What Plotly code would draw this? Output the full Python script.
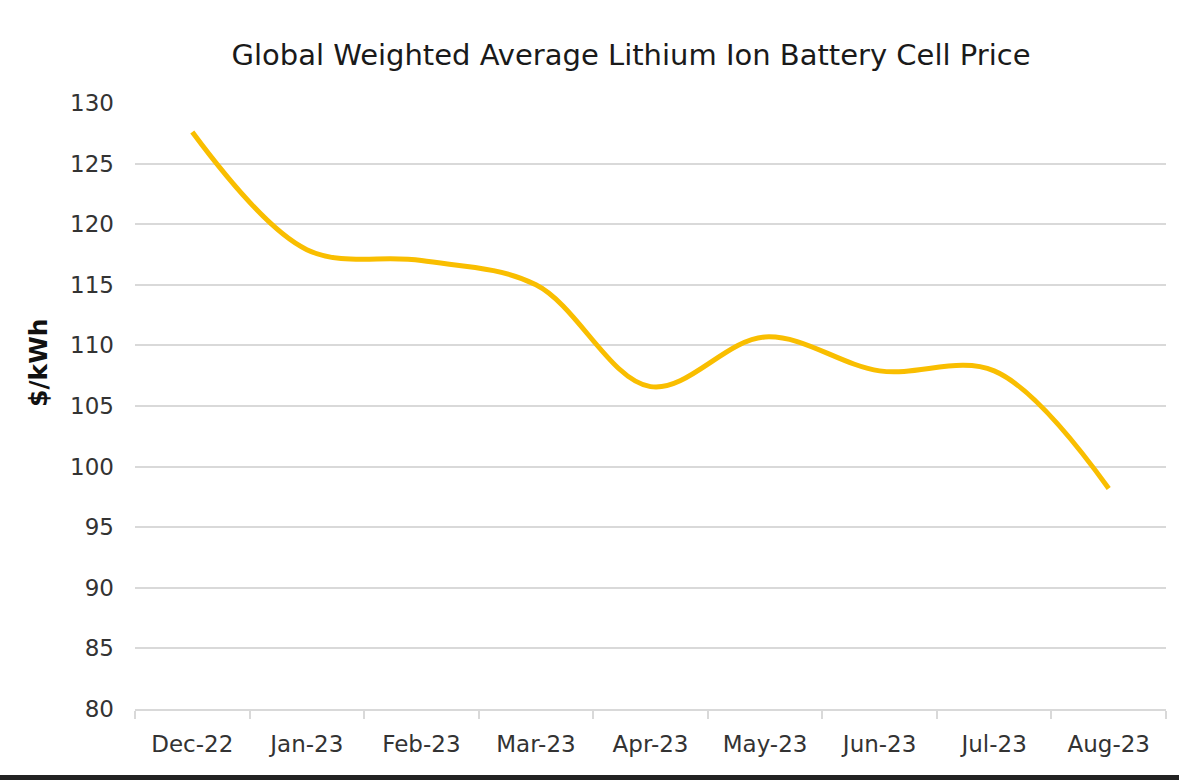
import plotly.graph_objects as go

months = ["Dec-22", "Jan-23", "Feb-23", "Mar-23", "Apr-23", "May-23", "Jun-23", "Jul-23", "Aug-23"]
price = [127.6, 117.9, 117.0, 115.0, 106.6, 110.7, 107.9, 107.9, 98.2]
y_ticks = [80, 85, 90, 95, 100, 105, 110, 115, 120, 125, 130]

W, H = 1179, 780
L, R, T, B = 135, 13, 103, 71
pw, ph = W - L - R, H - T - B

FONT = "DejaVu Sans"
grid = "#d9d9d9"

fig = go.Figure()
fig.add_trace(go.Scatter(
    x=months, y=price, mode="lines",
    line=dict(color="#F9BE00", width=5, shape="spline", smoothing=1),
    hoverinfo="x+y", showlegend=False,
))

fig.update_layout(
    width=W, height=H,
    margin=dict(l=L, r=R, t=T, b=B, autoexpand=False),
    paper_bgcolor="white", plot_bgcolor="white",
    font=dict(family=FONT, color="#333333"),
    title=dict(
        text="Global Weighted Average Lithium Ion Battery Cell Price",
        font=dict(family=FONT, size=29, color="#1a1a1a"),
        x=(631 - L) / pw, xref="paper", xanchor="center",
        y=(H - 55) / H, yref="container", yanchor="middle",
    ),
    xaxis=dict(
        type="category", showgrid=False, automargin=False,
        range=[-0.5, len(months) - 0.5],
        showline=True, linecolor=grid, linewidth=2,
        ticks="outside", tickson="boundaries", ticklen=8, tickcolor=grid, tickwidth=2,
        tickfont=dict(family=FONT, size=23, color="#333333"),
        ticklabelstandoff=13,
    ),
    yaxis=dict(
        range=[80, 130], tickvals=y_ticks, automargin=False,
        showgrid=True, gridcolor=grid, gridwidth=1.5,
        zeroline=False, showline=False, ticks="",
        tickfont=dict(family=FONT, size=23, color="#333333"),
        ticklabelstandoff=20,
    ),
    annotations=[dict(
        text="<b>$/kWh</b>", textangle=-90,
        xref="paper", yref="paper",
        x=(38 - L) / pw, y=(H - B - 363) / ph,
        xanchor="center", yanchor="middle", showarrow=False,
        font=dict(family=FONT, size=25, color="#111111"),
    )],
    shapes=[dict(
        type="rect", xref="paper", yref="paper", layer="above",
        x0=(-10 - L) / pw, x1=(W + 10 - L) / pw,
        y0=(H - B - 790) / ph, y1=(H - B - 775) / ph,
        fillcolor="#222222", line=dict(width=0),
    )],
)

fig.write_html("out.html")
